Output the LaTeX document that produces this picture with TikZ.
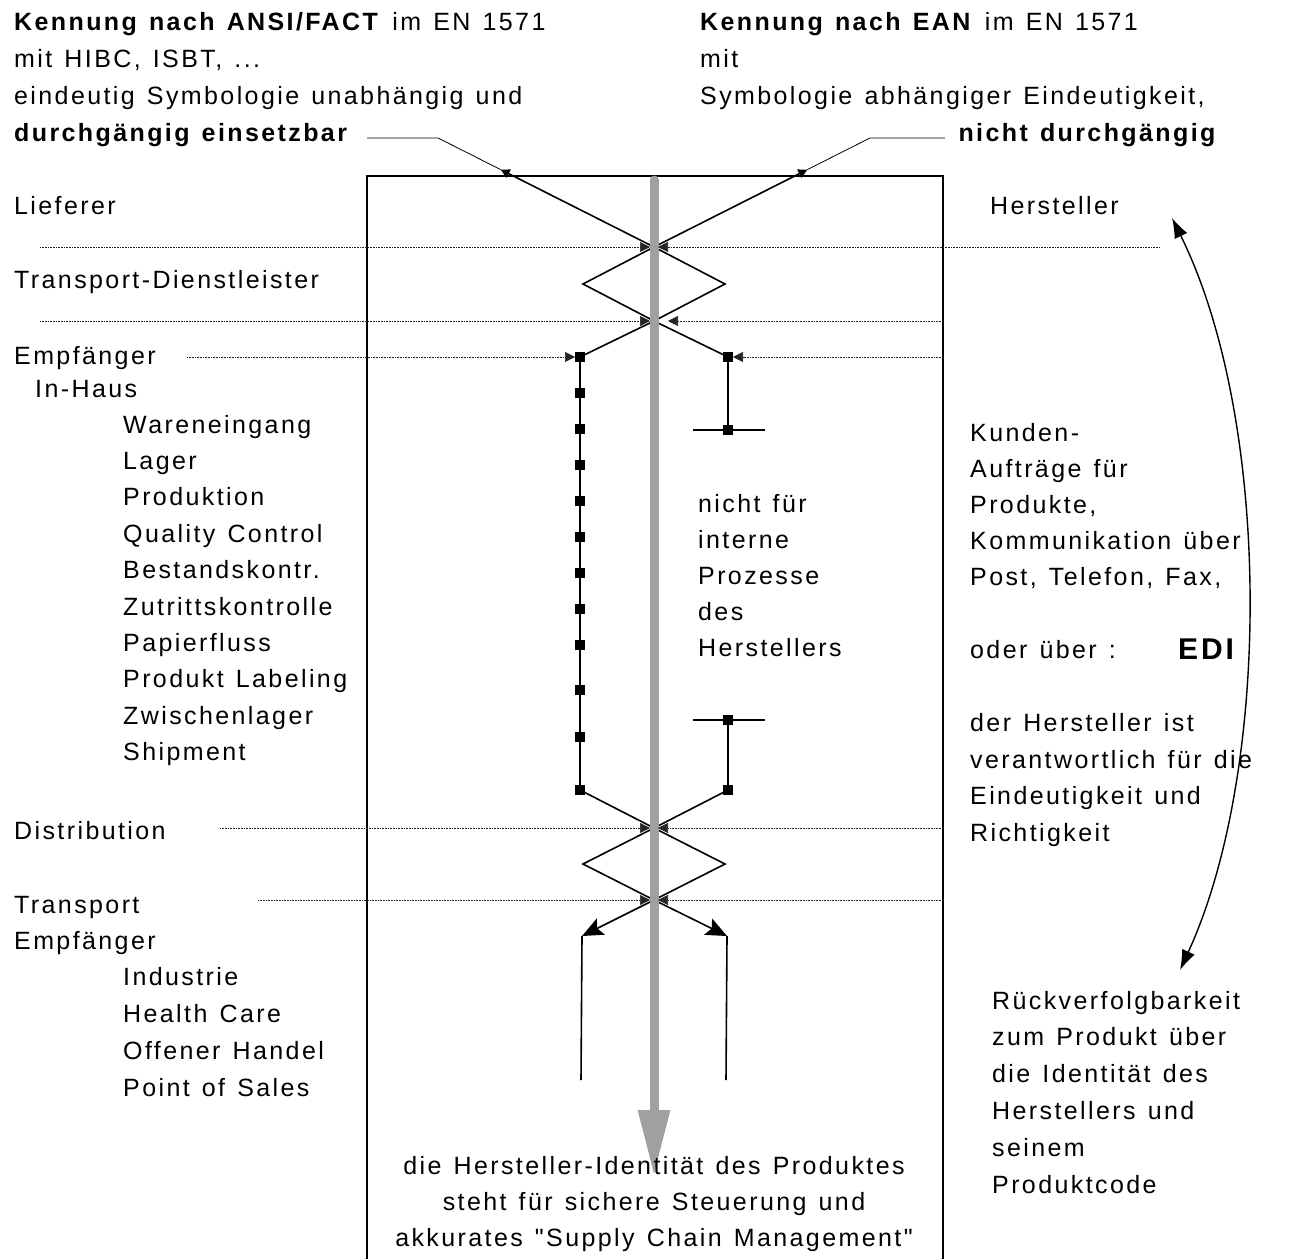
\documentclass[tikz,border=0pt]{standalone}
\usepackage{fontspec}
\setmainfont{Liberation Sans}[LetterSpace=9.6, WordSpace=1.3, Ligatures=TeXOff]
\usetikzlibrary{arrows.meta,calc}
\definecolor{flowgray}{RGB}{160,160,160}
\tikzstyle{lbl}=[anchor=base west, inner sep=0, font=\fontsize{25}{30}\selectfont]
\tikzstyle{sq}=[shape=rectangle, minimum size=9pt, fill, draw, inner sep=0]
\tikzstyle{guide}=[draw=black!85, line width=0.6pt, dash pattern=on 1pt off 0.6pt, -{Triangle[length=10pt,width=10pt]}]
\tikzstyle{flow}=[line width=1.6pt]
\tikzstyle{lead}=[line width=0.8pt]

\begin{document}
\begin{tikzpicture}[x=1pt,y=-1pt]
\useasboundingbox (0,0) rectangle (1300,1258);
% frame
\draw[line width=1.2pt] (367,1262) -- (367,176) -- (943,176) -- (943,1262);
% crossing points
\coordinate (X1) at (654,247);
\coordinate (X2) at (654,321);
\coordinate (X3) at (654,828);
\coordinate (X4) at (654,900);
\coordinate (Dl1) at (583,284);
\coordinate (Dr1) at (725,284);
\coordinate (Dl2) at (583,864);
\coordinate (Dr2) at (725,864);
\coordinate (El) at (580,357);
\coordinate (Er) at (728,357);
\coordinate (Bl) at (580,790);
\coordinate (Br) at (728,790);
\coordinate (Tr) at (728,430);
\coordinate (Ur) at (728,720);
\coordinate (Al) at (582,936);
\coordinate (Ar) at (727,936);
% leaders from the two headings
\coordinate (Lend) at (367,138);
\coordinate (Lcor) at (438,138);
\coordinate (Rend) at (945,138);
\coordinate (Rcor) at (870,138);
\coordinate (Ltop) at ($(Lcor)!0.29!(X1)$);
\coordinate (Rtop) at ($(Rcor)!0.29!(X1)$);
\draw[lead] (Lend) -- (Lcor) -- (Ltop);
\draw[lead] (Rend) -- (Rcor) -- (Rtop);
\draw[flow,-{Triangle[length=9pt,width=9pt]}] (X1) -- (Ltop);
\draw[flow,-{Triangle[length=9pt,width=9pt]}] (X1) -- (Rtop);
% zigzag
\draw[flow] (X1) -- (Dl1) -- (X2) -- (Dr1) -- cycle;
\draw[flow] (X2) -- (El) -- (Bl) -- (X3);
\draw[flow] (X2) -- (Er) -- (Tr);
\draw[flow] (Br) -- (Ur);
\draw[flow] (Br) -- (X3);
\draw[flow] ($(Tr)+(-35,0)$) -- ($(Tr)+(37,0)$);
\draw[flow] ($(Ur)+(-35,0)$) -- ($(Ur)+(37,0)$);
\draw[flow] (X3) -- (Dl2) -- (X4) -- (Dr2) -- cycle;
\draw[flow,-{Stealth[length=21pt,width=18pt,inset=4pt]}] (X4) -- (Al);
\draw[flow,-{Stealth[length=21pt,width=18pt,inset=4pt]}] (X4) -- (Ar);
\draw[flow] (Al) -- (581,1080);
\draw[flow] (Ar) -- (726,1080);
\foreach \y in {357,393,429,465,501,537,573,609,645,690,737,790}
  \node[sq] (s\y) at (580,\y) {};
\foreach \y in {357,430,720,790}
  \node[sq] (r\y) at (728,\y) {};
% gray flow arrow
\draw[flowgray, line width=9pt, line cap=round, -{Triangle[length=66pt,width=30pt]}] (654,180) -- (654,1176);
% guide lines
\draw[guide] (40,247) -- (650,247);
\draw[guide] (1160,247) -- (658,247);
\draw[guide] (40,321) -- (650,321);
\draw[guide] (943,321) -- (668,321);
\draw[guide] (187,357) -- (575,357);
\draw[guide] (943,357) -- (733,357);
\draw[guide] (220,828) -- (650,828);
\draw[guide] (943,828) -- (658,828);
\draw[guide] (258,900) -- (650,900);
\draw[guide] (943,900) -- (658,900);
% two-headed arc on the right
\coordinate (Htop) at (1172,218);
\coordinate (Rbot) at (1180,970);
\draw[line width=1.4pt, {Latex[length=20pt,width=14pt]}-{Latex[length=20pt,width=14pt]}] (Htop) .. controls (1272,420) and (1272,770) .. (Rbot);
% headings
\node[lbl] (h1) at (14,30) {\textbf{Kennung nach ANSI/FACT} im EN 1571};
\node[lbl] (h2) at (14,67) {mit HIBC, ISBT, ...};
\node[lbl] (h3) at (14,104) {eindeutig Symbologie unabhängig und};
\node[lbl] (h4) at (14,141) {\textbf{durchgängig einsetzbar}};
\node[lbl] (k1) at (700,30) {\textbf{Kennung nach EAN} im EN 1571};
\node[lbl] (k2) at (700,67) {mit};
\node[lbl] (k3) at (700,104) {Symbologie abhängiger Eindeutigkeit,};
\node[lbl, anchor=base east] (k4) at (1218,141) {\textbf{nicht durchgängig}};
% left column
\node[lbl] (lief) at (14,214) {Lieferer};
\node[lbl] (trans) at (14,288) {Transport-Dienstleister};
\node[lbl] (empf) at (14,364) {Empfänger};
\node[lbl] (inh) at (35,397) {In-Haus};
\foreach \t [count=\i from 0] in {Wareneingang, Lager, Produktion, Quality Control, Bestandskontr., Zutrittskontrolle, Papierfluss, Produkt Labeling, Zwischenlager, Shipment}
  \node[lbl] (in\i) at (123,433+36.4*\i) {\t};
\node[lbl] (dist) at (14,839) {Distribution};
\node[lbl] (tra2) at (14,913) {Transport};
\node[lbl] (emp2) at (14,949) {Empfänger};
\foreach \t [count=\i from 0] in {Industrie, Health Care, Offener Handel, Point of Sales}
  \node[lbl] (ex\i) at (123,985+37*\i) {\t};
% middle
\foreach \t [count=\i from 0] in {nicht für, interne, Prozesse, des, Herstellers}
  \node[lbl] (mid\i) at (698,512+36*\i) {\t};
% right column
\node[lbl] (herst) at (990,214) {Hersteller};
\foreach \t/\y in {Kunden-/441, Aufträge für/477, {Produkte,}/513, Kommunikation über/549, {Post, Telefon, Fax,}/585, oder über :/658, der Hersteller ist/731, verantwortlich für die/768, Eindeutigkeit und/804, Richtigkeit/841}
  \node[lbl] at (970,\y) {\t};
\node[lbl, font=\fontsize{30}{30}\selectfont\bfseries] (edi) at (1178,659) {EDI};
\foreach \t [count=\i from 0] in {Rückverfolgbarkeit, zum Produkt über, die Identität des, Herstellers und, seinem, Produktcode}
  \node[lbl] (rv\i) at (992,1009+36.8*\i) {\t};
% bottom
\node[lbl, anchor=base] (b1) at (654,1174) {die Hersteller-Identität des Produktes};
\node[lbl, anchor=base] (b2) at (654,1210) {steht für sichere Steuerung und};
\node[lbl, anchor=base] (b3) at (654,1246) {akkurates "Supply Chain Management"};
\end{tikzpicture}
\end{document}
